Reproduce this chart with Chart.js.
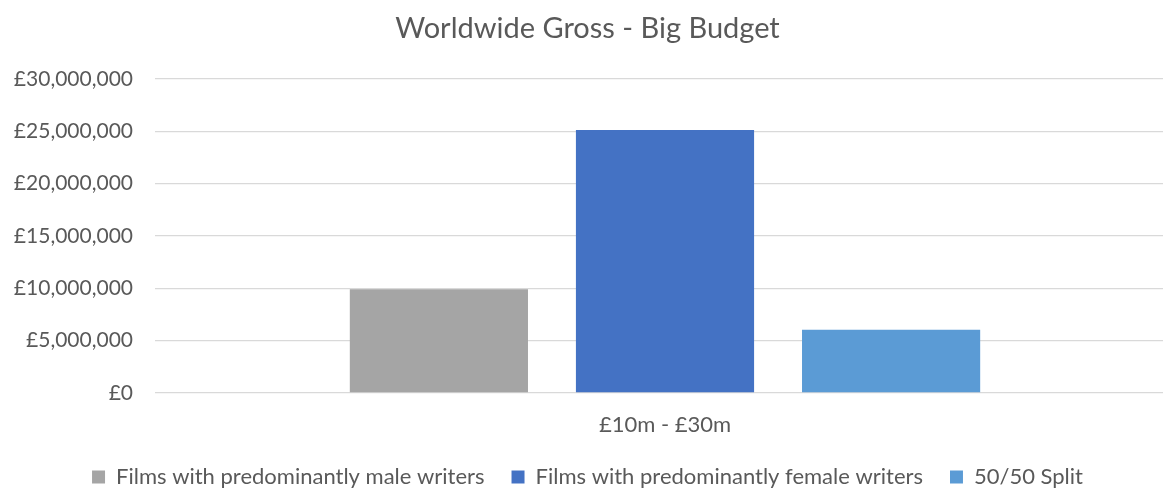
<!DOCTYPE html>
<html>
<head>
<meta charset="utf-8">
<title>Worldwide Gross - Big Budget</title>
<script src="https://cdn.jsdelivr.net/npm/chart.js@4/dist/chart.umd.min.js"></script>
<style>
  html, body { margin: 0; padding: 0; background: #fff; overflow: hidden; }
  /* canvas is a bit larger than the window; the excess is cropped like the reference */
  #wrap { width: 1200px; height: 498px; }
</style>
</head>
<body>
<div id="wrap"><canvas id="grossChart"></canvas></div>
<script>
// Data
const categories = ['£10m - £30m'];
const seriesNames = [
  'Films with predominantly male writers',
  'Films with predominantly female writers',
  '50/50 Split'
];
const maleWriters = [9900000];
const femaleWriters = [25100000];
const splitWriters = [6050000];
const seriesColours = ['#A5A5A5', '#4472C4', '#5B9BD5'];

const textColour = '#595959';
const fontFamily = 'Lato, "Open Sans", sans-serif';

// Excel-like currency labels
function pounds(v) {
  return '£' + Number(v).toLocaleString('en-GB');
}

const ctx = document.getElementById('grossChart').getContext('2d');
new Chart(ctx, {
  type: 'bar',
  data: {
    labels: categories,
    datasets: [maleWriters, femaleWriters, splitWriters].map((vals, i) => ({
      label: seriesNames[i],
      data: vals,
      backgroundColor: seriesColours[i],
      categoryPercentage: 0.665,
      barPercentage: 0.788
    }))
  },
  options: {
    responsive: true,
    maintainAspectRatio: false,
    animation: false,
    layout: { padding: { left: 0, right: 25, top: 0, bottom: 0 } },
    plugins: {
      title: {
        display: true,
        text: 'Worldwide Gross - Big Budget',
        color: textColour,
        font: { family: fontFamily, size: 29, weight: 'normal', lineHeight: 1.2 },
        padding: { top: 11, bottom: 33 }
      },
      legend: {
        position: 'bottom',
        labels: {
          color: textColour,
          font: { family: fontFamily, size: 22 },
          boxWidth: 13,
          boxHeight: 13,
          padding: 27
        }
      },
      tooltip: { enabled: false }
    },
    scales: {
      x: {
        grid: { display: false, drawTicks: false },
        border: { display: false },
        ticks: {
          color: textColour,
          font: { family: fontFamily, size: 22, lineHeight: 1.2 },
          padding: 19
        },
        afterFit: s => { s.height = 46; }
      },
      y: {
        min: 0,
        max: 30000000,
        grid: { color: '#D9D9D9', lineWidth: 1.3, drawTicks: false },
        border: { display: false },
        ticks: {
          stepSize: 5000000,
          color: textColour,
          font: { family: fontFamily, size: 21 },
          padding: 22,
          callback: v => pounds(v)
        },
        afterFit: s => { s.width = 155; }
      }
    }
  }
});
</script>
</body>
</html>
